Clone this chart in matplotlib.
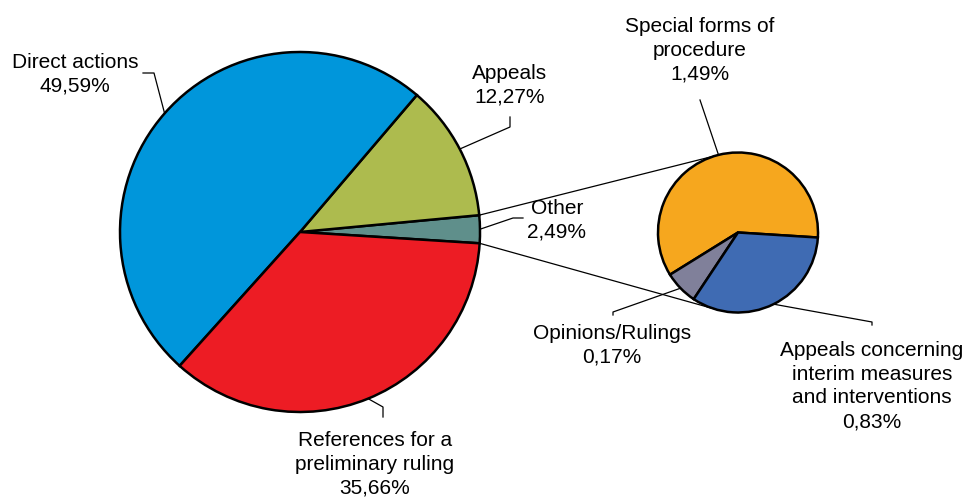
import numpy as np
import matplotlib
matplotlib.use("Agg")
import matplotlib.pyplot as plt

plt.rcParams['font.family'] = ['Liberation Sans', 'DejaVu Sans']

# main pie (counter-clockwise order, starting just below 3 o'clock)
main_labels = ["Other", "Appeals", "Direct actions", "References for a\npreliminary ruling"]
main_values = [2.49, 12.27, 49.59, 35.66]
main_colors = ["#5F8F8B", "#ADBB4E", "#0096DB", "#ED1C24"]

# secondary pie: breakdown of "Other"
sub_labels = ["Special forms of\nprocedure", "Opinions/Rulings",
              "Appeals concerning\ninterim measures\nand interventions"]
sub_values = [1.49, 0.17, 0.83]
sub_colors = ["#F6A71E", "#80809A", "#3F6BB3"]

H = 500


def P(x, y):
    # pixel coords (y down) -> data coords (y up)
    return x, H - y


fig = plt.figure(figsize=(9.67, 5), dpi=100)
ax = fig.add_axes([0, 0, 1, 1])
ax.set_aspect('equal')

main_c, main_r = P(300, 232), 180
sub_c, sub_r = P(738, 232.5), 80
start = -3.6

wedges, _ = ax.pie(main_values, colors=main_colors, startangle=start, counterclock=True,
                   center=main_c, radius=main_r, frame=True,
                   wedgeprops=dict(edgecolor="black", linewidth=1.8))
swedges, _ = ax.pie(sub_values, colors=sub_colors, startangle=start, counterclock=True,
                    center=sub_c, radius=sub_r, frame=True,
                    wedgeprops=dict(edgecolor="black", linewidth=1.8))
ax.set_xlim(0, 967)
ax.set_ylim(0, H)
ax.axis('off')


def edge_pt(c, r, ang):
    a = np.radians(ang)
    return c[0] + r * np.cos(a), c[1] + r * np.sin(a)


# connector lines from "Other" wedge to the secondary pie
other = wedges[0]
p1 = edge_pt(main_c, main_r, other.theta2)
p2 = edge_pt(sub_c, sub_r, 106)
p3 = edge_pt(main_c, main_r, other.theta1)
p4 = edge_pt(sub_c, sub_r, -104)
ax.plot([p1[0], p2[0]], [p1[1], p2[1]], color="black", lw=0.9, zorder=0)
ax.plot([p3[0], p4[0]], [p3[1], p4[1]], color="black", lw=0.9, zorder=0)

main_pct = ["2,49%", "12,27%", "49,59%", "35,66%"]
sub_pct = ["1,49%", "0,17%", "0,83%"]

# label centres and leader elbows (pixels)
main_text_pos = [(557, 220), (510, 85), (75, 74), (375, 464)]
main_elbow = [[(513, 218), (523, 218)], [(510, 127), (510, 117)],
              [(154, 73), (143, 73)], [(383, 407), (383, 417)]]
sub_text_pos = [(700, 50), (612, 345), (872, 386)]
sub_elbow = [[(700, 100)], [(613, 312), (613, 315)],
             [(872, 322), (872, 325)]]


def leaders(wlist, c, r, labels, pcts, tpos, elbows):
    for w, lab, pct, tp, el in zip(wlist, labels, pcts, tpos, elbows):
        mid = (w.theta1 + w.theta2) / 2
        start_pt = edge_pt(c, r, mid)
        xs = [start_pt[0]] + [P(*e)[0] for e in el]
        ys = [start_pt[1]] + [P(*e)[1] for e in el]
        ax.plot(xs, ys, color="black", lw=0.9, zorder=3)
        ax.text(*P(*tp), lab + "\n" + pct, ha="center", va="center",
                multialignment="center", fontsize=15, color="black",
                linespacing=1.32, zorder=4)


leaders(wedges, main_c, main_r, main_labels, main_pct, main_text_pos, main_elbow)
leaders(swedges, sub_c, sub_r, sub_labels, sub_pct, sub_text_pos, sub_elbow)

fig.savefig("out.png", dpi=100, facecolor="white")
